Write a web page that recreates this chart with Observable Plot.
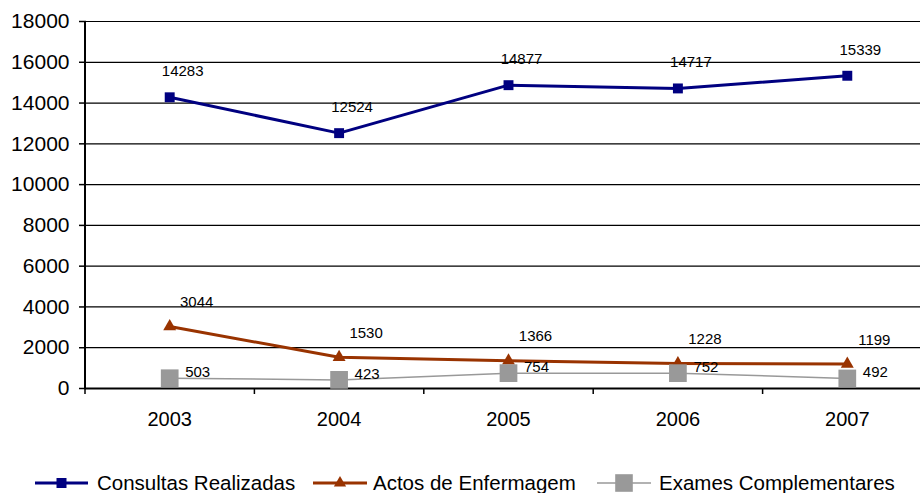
<!DOCTYPE html>
<html>
<head>
<meta charset="utf-8">
<script src="https://cdn.jsdelivr.net/npm/d3@7"></script>
<script src="https://cdn.jsdelivr.net/npm/@observablehq/plot@0.6"></script>
<style>
  html, body { margin: 0; padding: 0; background: #fff; }
  #chart svg { display: block; }
</style>
</head>
<body>
<div id="chart"></div>
<script>
const years = [2003, 2004, 2005, 2006, 2007];
const consultas = [14283, 12524, 14877, 14717, 15339];
const actos = [3044, 1530, 1366, 1228, 1199];
const exames = [503, 423, 754, 752, 492];
const seriesNames = ["Consultas Realizadas", "Actos de Enfermagem", "Exames Complementares"];
const yTicks = [0, 2000, 4000, 6000, 8000, 10000, 12000, 14000, 16000, 18000];

const colors = ["#000080", "#993300", "#999999"];
const font = "'Liberation Sans', Arial, sans-serif";

const rows = (vals) => years.map((y, i) => ({year: y, value: vals[i]}));
const dC = rows(consultas), dA = rows(actos), dE = rows(exames);

const boundaries = [2002.5, 2003.5, 2004.5, 2005.5, 2006.5];

const plot = Plot.plot({
  width: 920,
  height: 445,
  marginTop: 21,
  marginBottom: 57,
  marginLeft: 86,
  marginRight: 0,
  style: {fontFamily: font, background: "#fff"},
  x: {type: "linear", domain: [2002.5, 2007.5], range: [84.5, 931.5], label: null},
  y: {domain: [0, 18000], range: [388, 21], label: null},
  marks: [
    Plot.ruleY(yTicks, {x1: 2002.5, x2: 2007.5, stroke: "#000", strokeWidth: 1.2, strokeOpacity: 1}),
    Plot.axisY({ticks: yTicks, tickSize: 7, tickPadding: 10, fontSize: 21, tickFormat: d => String(d), stroke: "#000", strokeWidth: 1.5, color: "#000", label: null}),
    Plot.axisX({ticks: boundaries, tickSize: 6, tickFormat: () => "", stroke: "#000", strokeWidth: 1.5, label: null}),
    Plot.axisX({ticks: years, tickSize: 0, tickPadding: 23, fontSize: 20, tickFormat: d => String(d), color: "#000", label: null}),
    Plot.ruleX([2002.5], {y1: 0, y2: 18000, stroke: "#000", strokeWidth: 2}),
    Plot.ruleY([0], {x1: 2002.5, x2: 2007.5, stroke: "#000", strokeWidth: 2}),
    // Consultas
    Plot.line(dC, {x: "year", y: "value", stroke: colors[0], strokeWidth: 3}),
    Plot.dot(dC, {x: "year", y: "value", symbol: "square", r: 5.6, fill: colors[0], stroke: "none"}),
    Plot.text(dC, {x: "year", y: "value", text: d => String(d.value), dx: 13, dy: -26, fontSize: 15, fill: "#000"}),
    // Actos
    Plot.line(dA, {x: "year", y: "value", stroke: colors[1], strokeWidth: 3}),
    Plot.dot(dA, {x: "year", y: "value", symbol: "triangle", r: 4.8, fill: colors[1], stroke: "none"}),
    Plot.text(dA, {x: "year", y: "value", text: d => String(d.value), dx: 27, dy: -24, fontSize: 15, fill: "#000"}),
    // Exames
    Plot.line(dE, {x: "year", y: "value", stroke: colors[2], strokeWidth: 1.5}),
    Plot.dot(dE, {x: "year", y: "value", symbol: "square", r: 10, fill: colors[2], stroke: "none"}),
    Plot.text(dE, {x: "year", y: "value", text: d => String(d.value), dx: 28, dy: -6, fontSize: 15, fill: "#000"})
  ]
});
document.getElementById("chart").appendChild(plot);

// Legend below the chart
const legend = d3.select("#chart").append("svg")
  .attr("width", 920).attr("height", 48)
  .style("display", "block")
  .style("font-family", font);
const legendItems = [
  {x0: 35, x1: 88, tx: 97, symbol: d3.symbolSquare, size: 100, width: 3},
  {x0: 313, x1: 367, tx: 373, symbol: d3.symbolTriangle, size: 65, width: 3},
  {x0: 597, x1: 651, tx: 659, symbol: d3.symbolSquare, size: 310, width: 1.5}
];
const ly = 38;
legendItems.forEach((it, i) => {
  legend.append("line").attr("x1", it.x0).attr("x2", it.x1).attr("y1", ly).attr("y2", ly)
    .attr("stroke", colors[i]).attr("stroke-width", it.width);
  legend.append("path").attr("d", d3.symbol(it.symbol, it.size)())
    .attr("transform", `translate(${(it.x0 + it.x1) / 2},${ly})`).attr("fill", colors[i]);
  legend.append("text").attr("x", it.tx).attr("y", ly + 7).attr("font-size", 20.5)
    .attr("fill", "#000").text(seriesNames[i]);
});
</script>
</body>
</html>
